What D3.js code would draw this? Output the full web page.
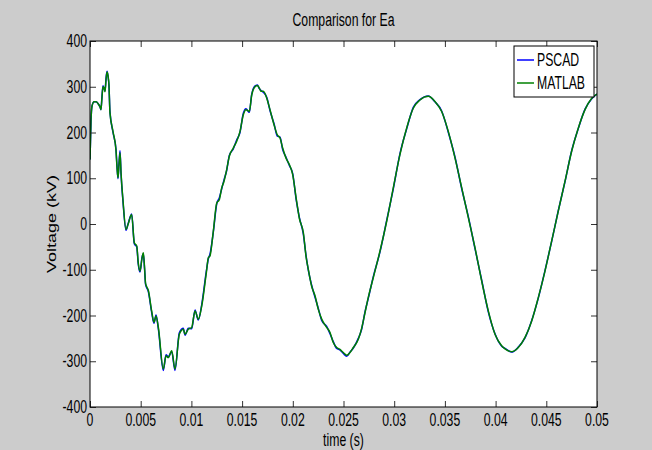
<!DOCTYPE html>
<html><head><meta charset="utf-8">
<script src="https://cdn.jsdelivr.net/npm/d3@7"></script>
<style>
html,body{margin:0;padding:0;background:#cccccc;}
svg{display:block;}
text{font-family:"Liberation Sans",Arial,sans-serif;fill:#000;}
</style></head>
<body>
<svg id="chart" width="652" height="450"></svg>
<script>
const title = "Comparison for Ea";
const xLabel = "time (s)";
const yLabel = "Voltage (kV)";
const seriesNames = ["PSCAD", "MATLAB"];
const xTicks = [0,0.005,0.01,0.015,0.02,0.025,0.03,0.035,0.04,0.045,0.05];
const xTickLabels = ["0","0.005","0.01","0.015","0.02","0.025","0.03","0.035","0.04","0.045","0.05"];
const yTicks = [-400,-300,-200,-100,0,100,200,300,400];

const time = [
0,0.0001,0.0002,0.0004,0.0006,0.0008,0.00099,0.00108,0.00118,0.00128,
0.00138,0.00148,0.00158,0.00168,0.00178,0.00187,0.00197,0.00227,0.00256,0.00266,
0.00276,0.00286,0.00296,0.00306,0.00325,0.00355,0.00375,0.00411,0.00437,0.00461,
0.00476,0.00493,0.00513,0.00526,0.00538,0.00548,0.00576,0.00608,0.00631,0.00651,
0.00674,0.00723,0.0075,0.00772,0.00806,0.00838,0.00881,0.0092,0.00937,0.00969,
0.01003,0.01036,0.01068,0.01102,0.01148,0.01167,0.01183,0.01216,0.0125,0.01275,
0.01299,0.01321,0.01348,0.01374,0.01413,0.01447,0.01479,0.01512,0.01538,0.01571,
0.01595,0.01617,0.0165,0.0167,0.01686,0.01709,0.01743,0.01775,0.01815,0.01847,
0.01874,0.019,0.01933,0.01966,0.01999,0.02034,0.02065,0.02104,0.0213,0.02153,
0.02186,0.02219,0.02251,0.02285,0.02334,0.02367,0.02399,0.02433,0.02465,0.02498,
0.02532,0.02564,0.02597,0.02646,0.02679,0.02712,0.02745,0.02794,0.0286,0.02926,
0.02991,0.03057,0.03123,0.03188,0.03254,0.03336,0.03402,0.03468,0.03534,0.036,
0.03666,0.03731,0.03797,0.03863,0.03928,0.03994,0.0406,0.04093,0.04159,0.04224,
0.0429,0.04356,0.04421,0.04487,0.04553,0.04618,0.04684,0.0475,0.04816,0.04882,
0.04948,0.05];

const pscad = [
141,226,258,267,267,263,256,250,278,302,
296,291,318,334,322,302,245,200,164,127,
99,132,160,110,50,-14,0,22,-43,-50,
-88,-105,-73,-65,-98,-132,-148,-193,-217,-199,
-229,-320,-286,-290,-279,-320,-238,-228,-243,-228,
-229,-188,-210,-176,-102,-76,-66,-18,44,57,
77,96,117,150,164,184,200,242,252,244,
284,299,304,296,292,288,277,248,219,192,
190,163,146,128,110,52,14,-22,-68,-101,
-134,-160,-184,-211,-224,-240,-257,-272,-275,-283,
-289,-280,-271,-250,-230,-192,-162,-115,-61,8,
77,154,208,255,272,280,267,247,200,146,
77,16,-54,-123,-192,-240,-267,-272,-280,-269,
-249,-211,-162,-102,-38,29,92,160,209,251,
274,284];

const matlab = [
141,228,258,267,267,263,256,250,276,300,
298,289,315,332,324,304,243,202,162,125,
101,130,156,112,53,-12,-1,21,-41,-48,
-85,-103,-75,-63,-95,-130,-146,-190,-215,-201,
-226,-317,-288,-292,-277,-317,-241,-230,-241,-230,
-226,-190,-208,-179,-105,-74,-70,-16,46,53,
79,93,119,148,166,181,202,239,250,246,
282,297,303,297,290,290,275,250,217,195,
188,166,144,130,108,55,12,-19,-70,-99,
-136,-157,-186,-208,-226,-237,-259,-270,-274,-281,
-287,-281,-270,-252,-228,-194,-160,-117,-59,6,
79,152,210,253,271,279,268,246,202,144,
79,14,-52,-125,-190,-241,-266,-273,-279,-270,
-248,-212,-161,-103,-37,28,93,159,210,250,
275,284];

const colors = ["#0000ff", "#008000"];

const svg = d3.select("#chart");
const W = 652, H = 450;
const m = {left: 90, right: 55, top: 41, bottom: 43};
const x = d3.scaleLinear().domain([0, 0.05]).range([m.left, W - m.right]);
const y = d3.scaleLinear().domain([-400, 400]).range([H - m.bottom, m.top]);
const FS = 18, SX = 0.68;

svg.append("rect").attr("width", W).attr("height", H).attr("fill", "#cccccc");
svg.append("rect").attr("x", x(0)).attr("y", y(400))
  .attr("width", x(0.05) - x(0)).attr("height", y(-400) - y(400)).attr("fill", "#fff");

svg.append("defs").append("clipPath").attr("id", "clip").append("rect")
  .attr("x", x(0)).attr("y", y(400)).attr("width", x(0.05) - x(0)).attr("height", y(-400) - y(400));

// lines
const line = d3.line().x(d => x(d[0])).y(d => y(d[1])).curve(d3.curveMonotoneX);
const n = Math.min(time.length, pscad.length, matlab.length);
[pscad, matlab].forEach((vals, i) => {
  const pts = d3.range(n).map(k => [time[k], vals[k]]);
  svg.append("path").attr("d", line(pts)).attr("fill", "none")
    .attr("stroke", colors[i]).attr("stroke-width", 1.5)
    .attr("stroke-linejoin", "round").attr("clip-path", "url(#clip)");
});

// axes (ticks inward, on all sides)
const tl = 6;
const axB = svg.append("g").attr("transform", `translate(0,${y(-400)})`)
  .call(d3.axisBottom(x).tickValues(xTicks).tickSizeInner(-tl).tickSizeOuter(0).tickFormat(""));
const axT = svg.append("g").attr("transform", `translate(0,${y(400)})`)
  .call(d3.axisTop(x).tickValues(xTicks).tickSizeInner(-tl).tickSizeOuter(0).tickFormat(""));
const axL = svg.append("g").attr("transform", `translate(${x(0)},0)`)
  .call(d3.axisLeft(y).tickValues(yTicks).tickSizeInner(-tl).tickSizeOuter(0).tickFormat(""));
const axR = svg.append("g").attr("transform", `translate(${x(0.05)},0)`)
  .call(d3.axisRight(y).tickValues(yTicks).tickSizeInner(-tl).tickSizeOuter(0).tickFormat(""));
[axB, axT, axL, axR].forEach(a => {
  a.select(".domain").remove();
  a.selectAll(".tick line").attr("stroke", "#333").attr("stroke-width", 1);
});
svg.append("rect").attr("x", x(0)).attr("y", y(400))
  .attr("width", x(0.05) - x(0)).attr("height", y(-400) - y(400))
  .attr("fill", "none").attr("stroke", "#000").attr("stroke-width", 1);

function hText(px, py, str, anchor) {
  return svg.append("text").attr("transform", `translate(${px},${py}) scale(${SX},1)`)
    .attr("text-anchor", anchor).attr("font-size", FS).text(str);
}
// tick labels
xTicks.forEach((t, i) => hText(x(t), y(-400) + 19, xTickLabels[i], "middle"));
yTicks.forEach(v => hText(x(0) - 3, y(v) + 6, String(v), "end"));

// titles
hText((x(0) + x(0.05)) / 2, 26, title, "middle");
hText((x(0) + x(0.05)) / 2, y(-400) + 39, xLabel, "middle");
svg.append("text").attr("transform", `translate(56,${(y(400) + y(-400)) / 2}) rotate(-90) scale(1,${SX})`)
  .attr("text-anchor", "middle").attr("font-size", FS).text(yLabel);

// legend
const lg = svg.append("g");
lg.append("rect").attr("x", 514).attr("y", 46).attr("width", 80).attr("height", 51)
  .attr("fill", "#fff").attr("stroke", "#000").attr("stroke-width", 1);
seriesNames.forEach((s, i) => {
  const ly = 60 + i * 23;
  lg.append("line").attr("x1", 517).attr("x2", 534).attr("y1", ly).attr("y2", ly)
    .attr("stroke", colors[i]).attr("stroke-width", 1.5);
  lg.append("text").attr("transform", `translate(537,${ly + 6}) scale(${SX},1)`)
    .attr("font-size", FS).text(s);
});
</script>
</body></html>
